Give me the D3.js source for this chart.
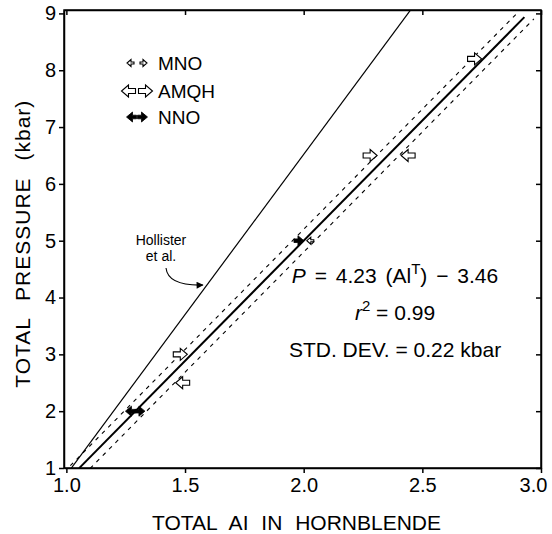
<!DOCTYPE html>
<head>
  <meta charset="utf-8">
  <script src="https://d3js.org/d3.v7.min.js"></script>
  <style>
    body { margin:0; background:#fff; }
    text { font-family: "Liberation Sans", Arial, sans-serif; fill:#000; }
    .axis path, .axis line { stroke:#000; stroke-width:1.5; }
    .axis text { font-size:20px; }
  </style>
</head>
<body>
  <div class="body"></div>
  <script>
    // values
    const xTicks = [1.0, 1.5, 2.0, 2.5, 3.0];
    const yTicks = [1, 2, 3, 4, 5, 6, 7, 8, 9];

    // experiments: Al total, pressure, arrow direction
    const amqh = [
      {al: 2.72, p: 8.2, dir: 1},
      {al: 2.28, p: 6.5, dir: 1},
      {al: 2.44, p: 6.5, dir: -1},
      {al: 1.48, p: 3.0, dir: 1},
      {al: 1.49, p: 2.5, dir: -1}
    ];
    const mno = [
      {al: 2.03, p: 5.0, dir: -1}
    ];
    const nno = [
      {al: 1.98, p: 5.0, dir: 1},
      {al: 1.27, p: 2.0, dir: -1},
      {al: 1.31, p: 2.0, dir: 1}
    ];

    // regression P = 4.23 Al - 3.46, dashed band, and Hollister et al. line
    const fit = {slope: 4.23, icpt: -3.46, from: 1.054, to: 2.93};
    const band = 0.2;
    const hollister = {slope: 5.64, icpt: -4.76, from: 0.99, to: 2.46};

    const legendItems = ["MNO", "AMQH", "NNO"];

    const margin = {top: 10, right: 11, bottom: 66, left: 64},
      width = 552 - margin.left - margin.right,
      height = 534 - margin.top - margin.bottom;

    const x = d3.scaleLinear().domain([0.99, 3.0]).range([0, width]);
    const y = d3.scaleLinear().domain([1, 9.06]).range([height, 0]);

    const root = d3.select(".body").append("svg")
      .attr("width", 552)
      .attr("height", 534);

    const defs = root.append("defs");
    defs.append("clipPath").attr("id", "clip")
      .append("rect").attr("width", width).attr("height", height);
    defs.append("marker")
      .attr("id", "head")
      .attr("viewBox", "0 0 10 10")
      .attr("refX", 9).attr("refY", 5)
      .attr("markerWidth", 9).attr("markerHeight", 7)
      .attr("markerUnits", "userSpaceOnUse")
      .attr("orient", "auto")
      .append("path").attr("d", "M0,0 L10,5 L0,10 Z").attr("fill", "#000");

    const svg = root.append("g")
      .attr("transform", "translate(" + margin.left + "," + margin.top + ")");

    // axes
    const xAxis = svg.append("g").attr("class", "axis")
      .attr("transform", "translate(0," + height + ")")
      .call(d3.axisBottom(x).tickValues(xTicks).tickFormat(d3.format(".1f"))
        .tickSizeInner(5).tickSizeOuter(0).tickPadding(5));
    // last label pulled in so it stays on the page
    xAxis.selectAll(".tick text").filter(d => d === 3.0).attr("dx", -8);
    svg.append("g").attr("class", "axis")
      .call(d3.axisLeft(y).tickValues(yTicks).tickFormat(d3.format("d"))
        .tickSizeInner(5).tickSizeOuter(0).tickPadding(3));
    svg.append("g").attr("class", "axis")
      .call(d3.axisTop(x).tickValues(xTicks).tickFormat("")
        .tickSizeInner(-5).tickSizeOuter(0));
    svg.append("g").attr("class", "axis")
      .attr("transform", "translate(" + width + ",0)")
      .call(d3.axisRight(y).tickValues(yTicks).tickFormat("")
        .tickSizeInner(-5).tickSizeOuter(0));
    svg.append("rect")
      .attr("width", width).attr("height", height)
      .attr("fill", "none").attr("stroke", "#000").attr("stroke-width", 1.5);

    // lines
    const line = d3.line().x(d => x(d[0])).y(d => y(d[1]));
    function seg(l, off, a0, a1) {
      return [[a0, l.slope * a0 + l.icpt + off], [a1, l.slope * a1 + l.icpt + off]];
    }
    const lines = svg.append("g").attr("clip-path", "url(#clip)");
    lines.append("path").datum(seg(hollister, 0, hollister.from, hollister.to))
      .attr("d", line).attr("fill", "none").attr("stroke", "#000").attr("stroke-width", 1.2);
    lines.append("path").datum(seg(fit, band, 0.99, 2.9))
      .attr("d", line).attr("fill", "none").attr("stroke", "#000")
      .attr("stroke-width", 1.1).attr("stroke-dasharray", "4,5");
    lines.append("path").datum(seg(fit, -band, 1.1, 2.97))
      .attr("d", line).attr("fill", "none").attr("stroke", "#000")
      .attr("stroke-width", 1.1).attr("stroke-dasharray", "4,5");
    lines.append("path").datum(seg(fit, 0, fit.from, fit.to))
      .attr("d", line).attr("fill", "none").attr("stroke", "#000").attr("stroke-width", 2);

    // arrow symbols (pointing right, centred)
    const shapes = {
      AMQH: "M-7,-2.5 L0,-2.5 L0,-6 L7,0 L0,6 L0,2.5 L-7,2.5 Z",
      MNO: "M-3,-1 L0,-1 L0,-3.5 L4,0 L0,3.5 L0,1 L-3,1 Z",
      NNO: "M-5,-1.8 L-1,-1.8 L-1,-5 L5,0 L-1,5 L-1,1.8 L-5,1.8 Z"
    };
    function drawSymbols(data, kind) {
      svg.selectAll(".pt-" + kind).data(data).enter()
        .append("path")
        .attr("class", "pt-" + kind)
        .attr("d", shapes[kind])
        .attr("transform", d => "translate(" + x(d.al) + "," + y(d.p) + ") scale(" + d.dir + ",1)")
        .attr("fill", kind === "NNO" ? "#000" : "#fff")
        .attr("stroke", "#000")
        .attr("stroke-width", kind === "NNO" ? 0.8 : 1.1);
    }
    drawSymbols(amqh, "AMQH");
    drawSymbols(mno, "MNO");
    drawSymbols(nno, "NNO");

    // legend
    const leg = svg.append("g");
    const legY = [53, 81, 107];
    const legGap = {MNO: 12, AMQH: 17, NNO: 11};
    legendItems.forEach(function(k, i) {
      [-1, 1].forEach(function(dir) {
        leg.append("path")
          .attr("d", shapes[k])
          .attr("transform", "translate(" + (73 + dir * legGap[k] / 2) + "," + legY[i] + ") scale(" + dir + ",1)")
          .attr("fill", k === "NNO" ? "#000" : "#fff")
          .attr("stroke", "#000")
          .attr("stroke-width", k === "NNO" ? 0.8 : 1.1);
      });
      leg.append("text").attr("x", 94).attr("y", legY[i]).attr("dy", "0.36em")
        .attr("font-size", 19).text(k);
    });

    // Hollister label with curved arrow
    const tipP = 4.22;
    const tipX = x((tipP - hollister.icpt) / hollister.slope) - 4;
    const tipY = y(tipP);
    svg.append("text").attr("x", 97).attr("y", 235).attr("text-anchor", "middle")
      .attr("font-size", 14).text("Hollister");
    svg.append("text").attr("x", 97).attr("y", 251).attr("text-anchor", "middle")
      .attr("font-size", 14).text("et al.");
    svg.append("path")
      .attr("d", "M102,258 Q104,276 " + tipX + "," + tipY)
      .attr("fill", "none").attr("stroke", "#000").attr("stroke-width", 1.1)
      .attr("marker-end", "url(#head)");

    // equation block
    const eq = svg.append("g").attr("font-size", 21).attr("text-anchor", "middle");
    const t1 = eq.append("text").attr("x", 331).attr("y", 273).attr("word-spacing", 3);
    t1.append("tspan").attr("font-style", "italic").text("P");
    t1.append("tspan").text(" = 4.23 (Al");
    t1.append("tspan").attr("font-size", 15).attr("dy", -9).text("T");
    t1.append("tspan").attr("dy", 9).text(") \u2212 3.46");
    const t2 = eq.append("text").attr("x", 331).attr("y", 310);
    t2.append("tspan").attr("font-style", "italic").text("r");
    t2.append("tspan").attr("font-size", 15).attr("dy", -9).text("2");
    t2.append("tspan").attr("dy", 9).text(" = 0.99");
    eq.append("text").attr("x", 331).attr("y", 347).text("STD. DEV. = 0.22 kbar");

    // axis titles
    svg.append("text")
      .attr("x", width / 2 - 6).attr("y", height + 62)
      .attr("text-anchor", "middle").attr("font-size", 21)
      .attr("word-spacing", 7)
      .text("TOTAL AI IN HORNBLENDE");
    svg.append("text")
      .attr("transform", "translate(-34," + (y(5) + 3) + ") rotate(-90)")
      .attr("text-anchor", "middle").attr("font-size", 21)
      .attr("letter-spacing", 1).attr("word-spacing", 10)
      .text("TOTAL PRESSURE (kbar)");
  </script>
</body>
